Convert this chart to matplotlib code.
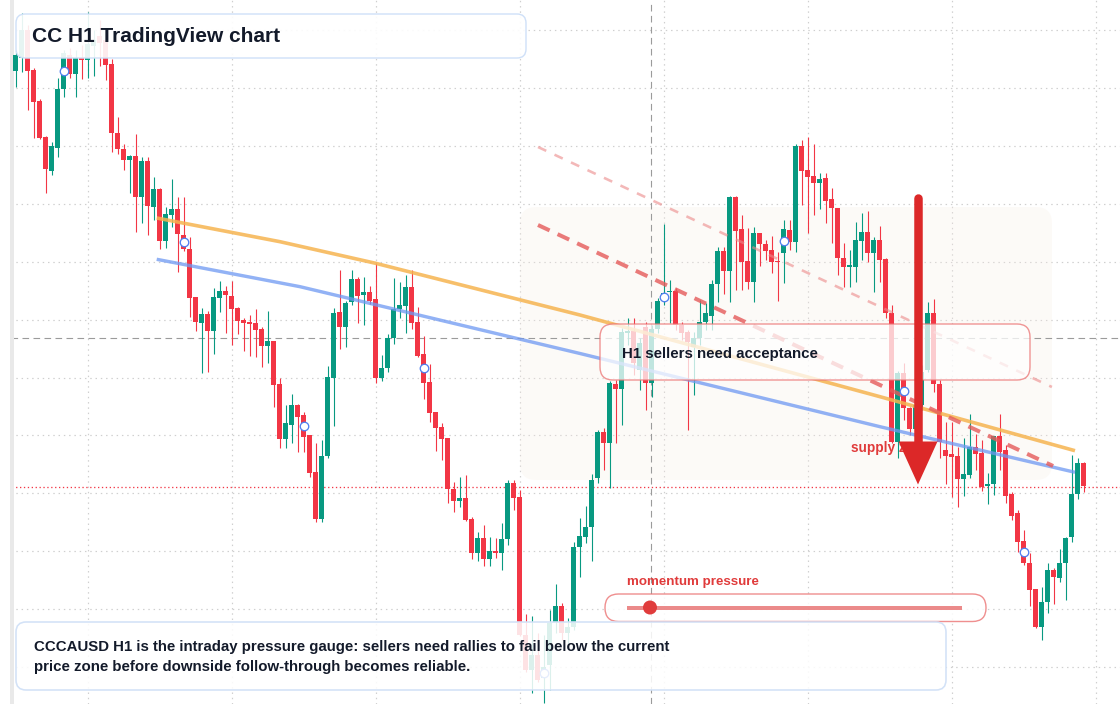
import matplotlib
matplotlib.use("Agg")
import matplotlib.pyplot as plt
from matplotlib.patches import FancyBboxPatch, Rectangle, Polygon, Circle
from matplotlib.transforms import Affine2D
import numpy as np

# ---------------- data (price units) ----------------
opens = [633.3, 646, 674, 634, 603, 567.3, 533.3, 556.3, 614.7, 649,
         630, 646, 644, 658, 668, 664, 640, 571.3, 555, 544,
         548, 507.3, 543, 497.3, 515, 463.3, 489.3, 495, 469, 455,
         407, 381.3, 390, 373.3, 406.3, 413, 408, 396, 384, 382,
         381, 375, 358.3, 363, 320, 265.3, 279.3, 299, 289, 269,
         232, 185, 248, 326.3, 392, 377.3, 402.3, 425, 409, 412,
         405, 326.3, 335.7, 365.7, 394.7, 398, 416.7, 382, 350, 322,
         292, 276.7, 266, 214.7, 203.3, 206, 185, 151.3, 165.7, 145,
         153, 151.3, 164.7, 220.7, 207.3, 69, 34, 49, 26, 39,
         82, 98, 71.3, 77.3, 156.7, 167.3, 176.7, 225.7, 272.3, 261.3,
         320, 315.3, 370.7, 373.3, 334, 377.3, 320.7, 374.7, 403.3, 412,
         413.3, 379, 372.3, 357.3, 366, 382, 388, 420, 453, 433.3,
         506.7, 475.3, 443, 422.3, 470.7, 460, 454, 443, 451.3, 474,
         462.3, 558.3, 534, 528, 520.7, 525.7, 504.7, 495.7, 446.3, 437,
         436.7, 463.3, 472.3, 450.7, 464, 444.7, 390.7, 262.3, 331.3, 295.7,
         275, 299, 334, 390.7, 320, 254, 250, 248, 224.7, 229,
         256.7, 251.3, 218, 220, 268, 254, 210, 191.3, 163.3, 140.7,
         114.7, 77.3, 102.3, 134, 125.7, 140.7, 166.7, 210, 240.7]
highs = [654, 691, 679, 636, 605, 568, 562.3, 626, 654, 656,
         654, 659, 692.3, 674, 684, 669, 645, 587, 560, 549,
         570, 547.3, 547.3, 527.3, 516, 497.3, 525, 507.3, 507.3, 467.3,
         407, 395.7, 393, 415.7, 423, 418, 423, 397.3, 385.7, 389,
         395, 377.3, 393, 363, 326, 299, 310, 300, 292, 269,
         260.7, 264, 338, 395.7, 434, 403.3, 434, 426.7, 426.7, 418,
         440.7, 349, 370, 425.7, 422.3, 429, 434, 397.3, 368, 340,
         292, 280.7, 266, 222.3, 227.3, 229, 187.3, 172, 179, 166.7,
         165.7, 180.7, 224, 224, 214, 90, 88, 71, 69, 94,
         120, 101, 86, 162.3, 185.7, 198, 230, 274, 276, 323,
         324, 376, 386, 386, 366, 382, 379, 406, 479.7, 424,
         416, 382, 374, 372.3, 404, 401, 424, 457.3, 457.3, 508,
         508, 489, 476.3, 477, 471, 464, 468, 452.3, 484, 484,
         560, 564, 566.7, 560, 530.7, 530.7, 515.7, 495.7, 461.3, 454,
         482.3, 490.7, 493.3, 467.3, 478, 446, 399, 333.3, 340.7, 297.3,
         304, 339, 402.3, 404.7, 324, 282.3, 282.3, 257.3, 265.7, 290,
         270, 264, 231.3, 268, 290, 259, 212, 194, 174, 150.7,
         115, 117.3, 140.7, 136, 154.7, 167, 249, 245.7, 242.3]
lows = [617, 632, 594, 566, 565, 511.3, 529, 547.3, 607.3, 626,
        607.3, 625, 626.3, 628, 638, 624, 552.3, 550, 534, 511.3,
        472.3, 481, 469, 484, 455, 456.3, 477.3, 432.3, 453, 387.3,
        373.3, 331.3, 332.3, 350.3, 392.3, 370.7, 359, 370.3, 353, 348,
        347.3, 337.3, 341.3, 296.7, 256, 256, 260.7, 252.3, 252.3, 227.3,
        182.3, 182.3, 245.7, 278, 355.3, 357.3, 399, 381.3, 379, 400,
        320.7, 323.3, 332.3, 360, 385.7, 370.7, 374.7, 347, 305, 282.3,
        253.3, 244, 201.3, 192.3, 197.3, 183.3, 144.7, 143.3, 138.3, 138.3,
        145.7, 134, 159, 194, 68, 32, 11.3, 22, 1, 14,
        71, 64, 61, 74, 127.3, 161.3, 143.3, 220.7, 234, 216,
        260.7, 279, 359, 329, 314, 294, 307.3, 371, 399, 381,
        374, 364, 274, 309, 359, 374, 374, 402.3, 410, 402.3,
        414, 414, 414.7, 402.3, 438, 444, 431.3, 403.3, 420.7, 454,
        452.3, 499, 470.7, 489, 494.7, 480.7, 460.7, 429, 416.7, 417,
        422.3, 444, 442, 412.3, 422.3, 386, 261, 245.7, 284, 269,
        264, 294, 332, 312.3, 245.7, 220, 207.3, 197.3, 208, 226,
        234, 213.3, 200, 209, 234, 200.7, 184, 152.3, 139, 98,
        76, 64, 90.7, 100, 122.3, 104, 162.3, 204.7, 212.3]
closes = [649, 674, 633.5, 602.3, 566.3, 535.3, 558, 614.7, 650.7, 630,
          646, 644, 660, 664, 661, 639, 571.3, 555.3, 544, 548,
          507.3, 543, 498.3, 515, 463.3, 490, 495, 470.3, 454.7, 406.3,
          382.3, 390, 373.3, 407, 413, 409, 395.3, 383.3, 381.3, 380,
          374.3, 358.3, 363, 319.3, 265.3, 281, 299, 287.3, 267.3, 231.3,
          185, 248, 327, 390.7, 377.3, 401, 425, 408, 412, 402.7,
          326.3, 335.7, 365.7, 395, 398.7, 416.7, 381.3, 348.3, 321.3, 291.3,
          276.3, 265.3, 214.7, 203.3, 206, 184, 151.3, 165.7, 145, 153,
          151.3, 164.7, 220.7, 206.3, 69, 34, 49, 24, 37, 81,
          98, 71, 77.3, 156.7, 168, 176.7, 224, 272.3, 261.3, 320.7,
          315.3, 372.3, 373.3, 340.7, 361.3, 320.7, 374.7, 403.3, 411, 413.3,
          379, 370.7, 362.3, 365.7, 382, 391, 420, 453, 433.3, 506.7,
          473.3, 442.3, 422.3, 470.7, 460, 453.3, 442.3, 442, 474.7, 462.3,
          558.3, 533.3, 527.3, 520.7, 524.7, 503.3, 495.7, 445.7, 436.7, 439,
          464, 472.3, 450.7, 464, 444, 390.7, 262.3, 331.3, 295.7, 274.7,
          299, 332, 390.7, 320, 262.3, 248, 247.3, 224.7, 230, 256.7,
          250, 217.3, 220, 268, 252.3, 208, 188, 162.3, 140.7, 114,
          77.3, 102.3, 134, 126.7, 140.7, 165.7, 210, 240.7, 218]

marker_idx = [8, 28, 48, 68, 88, 108, 128, 148, 168]

# trend lines (candle index, price)
orange_x = [23.5, 44.05, 60.0, 94.05, 144.05, 176.55]
orange_y = [486.0, 462.3, 440.7, 389.0, 307.3, 253.3]
blue_x = [23.5, 47.4, 94.05, 144.05, 176.55]
blue_y = [444.7, 417.3, 350.5, 277.3, 231.7]
red_dash_x = [87.05, 172.9]
red_dash_y = [479.0, 238.0]
pink_dash_x = [87.05, 172.7]
pink_dash_y = [557.0, 317.0]

crosshair_price = 366.0
crosshair_idx = 105.9
last_price = 217.0

grid_prices = [37.2, 95.05, 152.9, 210.75, 268.6, 326.45, 384.3, 442.15,
               500.0, 557.85, 615.7, 673.55]
grid_idx = [12, 36, 60, 84, 108, 132, 156, 180]

title = "CC H1 TradingView chart"
note_lines = ["CCCAUSD H1 is the intraday pressure gauge: sellers need rallies to fail below the current",
              "price zone before downside follow-through becomes reliable."]
label_text = "H1 sellers need acceptance"
gauge_text = "momentum pressure"
supply_text = "supply zone"

# ---------------- figure ----------------
plt.rcParams['font.family'] = ['Liberation Sans', 'DejaVu Sans']
W, H, DPI = 1120, 704, 100
fig = plt.figure(figsize=(W / DPI, H / DPI), dpi=DPI)
fig.patch.set_facecolor('white')
ax = fig.add_axes([0, 0, 1, 1])
ax.set_xlim(-15.7 / 6, (W - 15.7) / 6)
ax.set_ylim(0, H)
ax.axis('off')

PX = 0.72  # points per pixel
pix = Affine2D().scale(1, -1).translate(0, H)  # top-left pixel coordinates

# grid
for gp in grid_prices:
    ax.axhline(gp, color='#cfcfcf', lw=1.2 * PX, ls=(0, (1.2, 3.2)), zorder=0.5)
for gi in grid_idx:
    ax.axvline(gi, color='#cfcfcf', lw=1.2 * PX, ls=(0, (1.2, 3.2)), zorder=0.5)

# shaded zone
ax.add_patch(FancyBboxPatch((520, 207), 532, 273, boxstyle='round,pad=0,rounding_size=16',
                            transform=pix, facecolor='#f7ede3', edgecolor='none', alpha=0.25, zorder=1))

# crosshair + last price line
ax.axhline(crosshair_price, color='#9b9b9b', lw=1.1 * PX, ls=(0, (6, 4)), zorder=2)
ax.axvline(crosshair_idx, color='#9b9b9b', lw=1.1 * PX, ls=(0, (6, 4)), zorder=2)
ax.axhline(last_price, color='#f23645', lw=1.3 * PX, ls=(0, (1, 2)), zorder=2)

# left margin / strip (covers grid and guide lines)
ax.add_patch(Rectangle((0, 0), 10, H, transform=pix, facecolor='white', edgecolor='none', zorder=2.5))
ax.add_patch(Rectangle((10, 0), 4, H, transform=pix, facecolor='#e9e9e9', edgecolor='none', zorder=2.5))

# candles
o = np.array(opens); h = np.array(highs); l = np.array(lows); c = np.array(closes)
idx = np.arange(len(o))
up = c >= o
col = np.where(up, '#089981', '#f23645')
ax.vlines(idx, l, h, colors=col, lw=1.1 * PX, zorder=3)
body_lo = np.minimum(o, c)
body_h = np.maximum(np.abs(c - o), 1.2)
ax.bar(idx, body_h, bottom=body_lo, width=0.78, color=col, edgecolor='none', zorder=3.1)

# trend lines
ax.plot(orange_x, orange_y, color='#f6b450', lw=3.6 * PX, alpha=0.85, solid_capstyle='butt', zorder=4)
ax.plot(blue_x, blue_y, color='#6e98f2', lw=3.4 * PX, alpha=0.75, solid_capstyle='butt', zorder=4)
ax.plot(red_dash_x, red_dash_y, color='#e55a5a', lw=4.0 * PX, alpha=0.8, ls=(0, (3.2, 2.2)), zorder=4)
ax.plot(pink_dash_x, pink_dash_y, color='#ec8a8a', lw=2.6 * PX, alpha=0.6, ls=(0, (3.5, 3.5)), zorder=4)

# markers
mx = np.array(marker_idx)
my = (o[mx] + c[mx]) / 2
ax.scatter(mx, my, s=(8.5 * PX) ** 2, facecolors='white', edgecolors='#4f7ff0', linewidths=1.3 * PX, zorder=5)

# title box
ax.add_patch(FancyBboxPatch((16, 14), 510, 44, boxstyle='round,pad=0,rounding_size=9', transform=pix,
                            facecolor=(1, 1, 1, 0.9), edgecolor='#cfe0f8', lw=1.4 * PX, zorder=6))
ax.text(32, 37, title, transform=pix, fontsize=15, fontweight='bold', color='#131a2a',
        va='center', ha='left', zorder=7)

# label box
ax.add_patch(FancyBboxPatch((600, 324), 430, 56, boxstyle='round,pad=0,rounding_size=13', transform=pix,
                            facecolor=(1, 1, 1, 0.75), edgecolor=(0.92, 0.45, 0.45, 0.75), lw=1.4 * PX, zorder=6))
ax.text(622, 354, label_text, transform=pix, fontsize=10.8, fontweight='bold', color='#131a2a',
        va='center', ha='left', zorder=7)

# supply text + arrow
ax.text(851, 448, supply_text, transform=pix, fontsize=9.8, fontweight='bold', color='#e03b3b',
        va='center', ha='left', zorder=7.5)
ax.plot([918, 918], [198, 446], transform=pix, color='#dc2828', lw=8.5 * PX, solid_capstyle='round', zorder=8)
ax.add_patch(Polygon([(898.5, 441.5), (937.5, 441.5), (918, 484.5)], closed=True, transform=pix,
                     facecolor='#dc2828', edgecolor='none', zorder=8))

# gauge
ax.add_patch(FancyBboxPatch((605, 594), 381, 27.5, boxstyle='round,pad=0,rounding_size=13.5', transform=pix,
                            facecolor=(1, 1, 1, 0.85), edgecolor=(0.92, 0.45, 0.45, 0.8), lw=1.4 * PX, zorder=6))
ax.plot([627, 962], [607.5, 607.5], transform=pix, color='#e87676', lw=4 * PX, alpha=0.85,
        solid_capstyle='butt', zorder=7)
ax.add_patch(Circle((650, 607.5), 7, transform=pix, facecolor='#e03c3c', edgecolor='none', zorder=7.5))
ax.text(627, 582, gauge_text, transform=pix, fontsize=9.6, fontweight='bold', color='#e03b3b',
        va='center', ha='left', zorder=7)

# bottom note box
ax.add_patch(FancyBboxPatch((16, 622), 930, 68, boxstyle='round,pad=0,rounding_size=10', transform=pix,
                            facecolor=(1, 1, 1, 0.86), edgecolor='#d3e2f7', lw=1.6 * PX, zorder=6))
ax.text(34, 647.5, note_lines[0], transform=pix, fontsize=10.8, fontweight='bold', color='#131a2a',
        va='center', ha='left', zorder=7)
ax.text(34, 667.5, note_lines[1], transform=pix, fontsize=10.8, fontweight='bold', color='#131a2a',
        va='center', ha='left', zorder=7)

fig.savefig('out.png', dpi=DPI, facecolor='white')
